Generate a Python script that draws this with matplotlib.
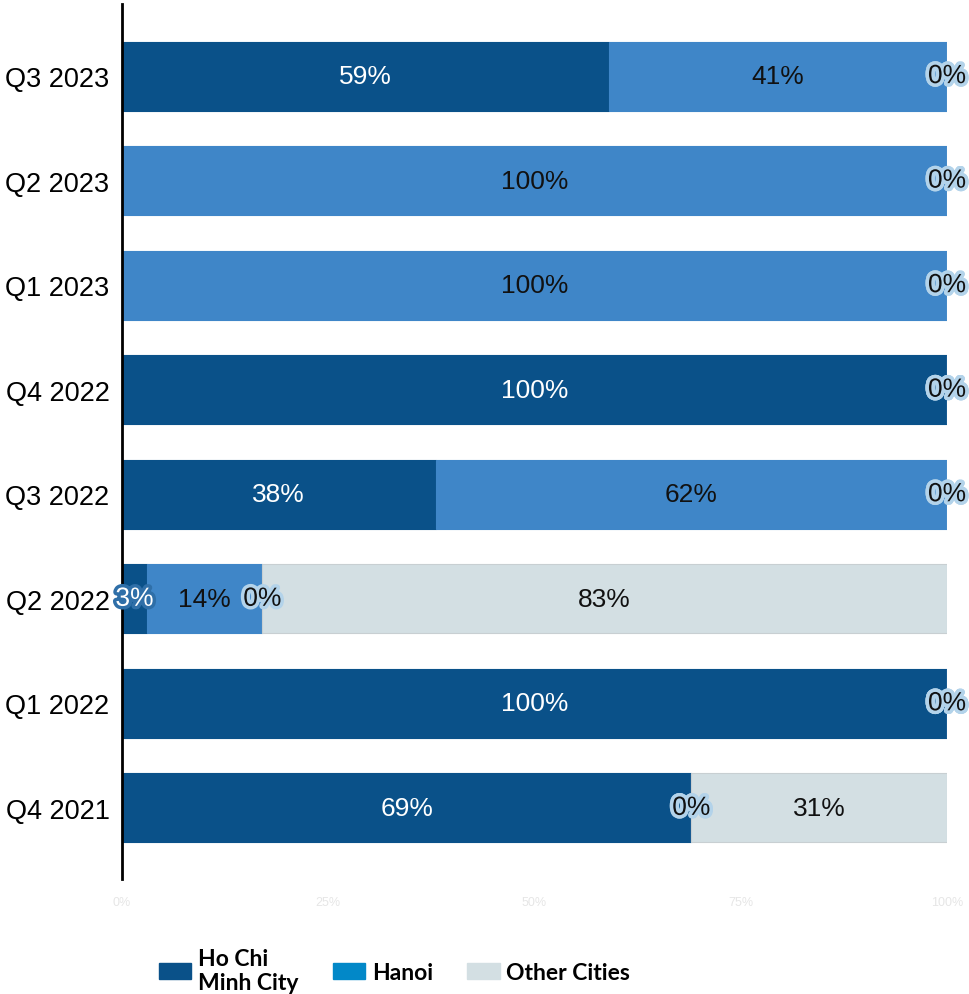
import numpy as np
import matplotlib.pyplot as plt
import matplotlib.patheffects as pe
from matplotlib.patches import Patch

plt.rcParams['font.family'] = ['Liberation Sans', 'DejaVu Sans']

# Data (bottom to top)
quarters = ["Q4 2021", "Q1 2022", "Q2 2022", "Q3 2022",
            "Q4 2022", "Q1 2023", "Q2 2023", "Q3 2023"]
hcmc = [69, 100, 3, 38, 100, 0, 0, 59]
hanoi = [0, 0, 14, 62, 0, 100, 100, 41]
unknown = [0, 0, 0, 0, 0, 0, 0, 0]
other = [31, 0, 83, 0, 0, 0, 0, 0]
ticks = [0, 25, 50, 75, 100]
tick_labels = ["0%", "25%", "50%", "75%", "100%"]

bar_colors = ["#0A5189", "#3F86C8", "#3F86C8", "#D3DFE3"]
legend_colors = ["#0A5189", "#0288C8", "#D3DFE3"]
legend_names = ["Ho Chi\nMinh City", "Hanoi", "Other Cities"]

fig = plt.figure(figsize=(9.69, 9.95), dpi=100)
ax = fig.add_axes([0.126, 0.1156, 0.8513, 0.8794])

y = np.arange(len(quarters))
left = np.zeros(len(quarters))
series = [hcmc, hanoi, unknown, other]
for idx, vals in enumerate(series):
    vals = np.array(vals, dtype=float)
    edge = "#C8CFD2" if idx == 3 else bar_colors[idx]
    ax.barh(y, vals, left=left, height=0.66, color=bar_colors[idx],
            edgecolor=edge, linewidth=0.8)
    for i, v in enumerate(vals):
        cx = left[i] + v / 2
        txt_color = "white" if idx == 0 else "#111111"
        if v == 0:
            if idx == 0:
                continue
            ax.text(cx, y[i], "0%", ha="center", va="center", fontsize=19,
                    color="#111111",
                    path_effects=[pe.withStroke(linewidth=5, foreground="#B3D3EA")])
        elif v < 5:
            ax.text(cx, y[i], f"{int(v)}%", ha="center", va="center", fontsize=19,
                    color="white",
                    path_effects=[pe.withStroke(linewidth=5, foreground="#2F6FA8")])
        else:
            ax.text(cx, y[i], f"{int(v)}%", ha="center", va="center", fontsize=19,
                    color=txt_color)
    left += vals

ax.set_xlim(0, 100)
ax.set_ylim(-0.68, 7.69)
ax.set_yticks(y)
ax.set_yticklabels(quarters, fontsize=19.5)
ax.set_xticks(ticks)
ax.set_xticklabels(tick_labels, fontsize=9, color="#E6E6E6")
ax.tick_params(axis="both", length=0)
ax.tick_params(axis="x", pad=12)
ax.tick_params(axis="y", pad=9)
for s in ["top", "right", "bottom"]:
    ax.spines[s].set_visible(False)
ax.spines["left"].set_linewidth(2)
ax.spines["left"].set_color("black")

handles = [Patch(facecolor=c, edgecolor=c) for c in legend_colors]
fig.legend(handles, legend_names, loc="lower left", bbox_to_anchor=(0.143, -0.02),
           ncol=3, frameon=False, prop={"family": "Lato", "weight": "bold", "size": 16.5},
           handlelength=1.4, handleheight=0.75, columnspacing=1.5, handletextpad=0.3)

fig.savefig("out.png", dpi=100)
